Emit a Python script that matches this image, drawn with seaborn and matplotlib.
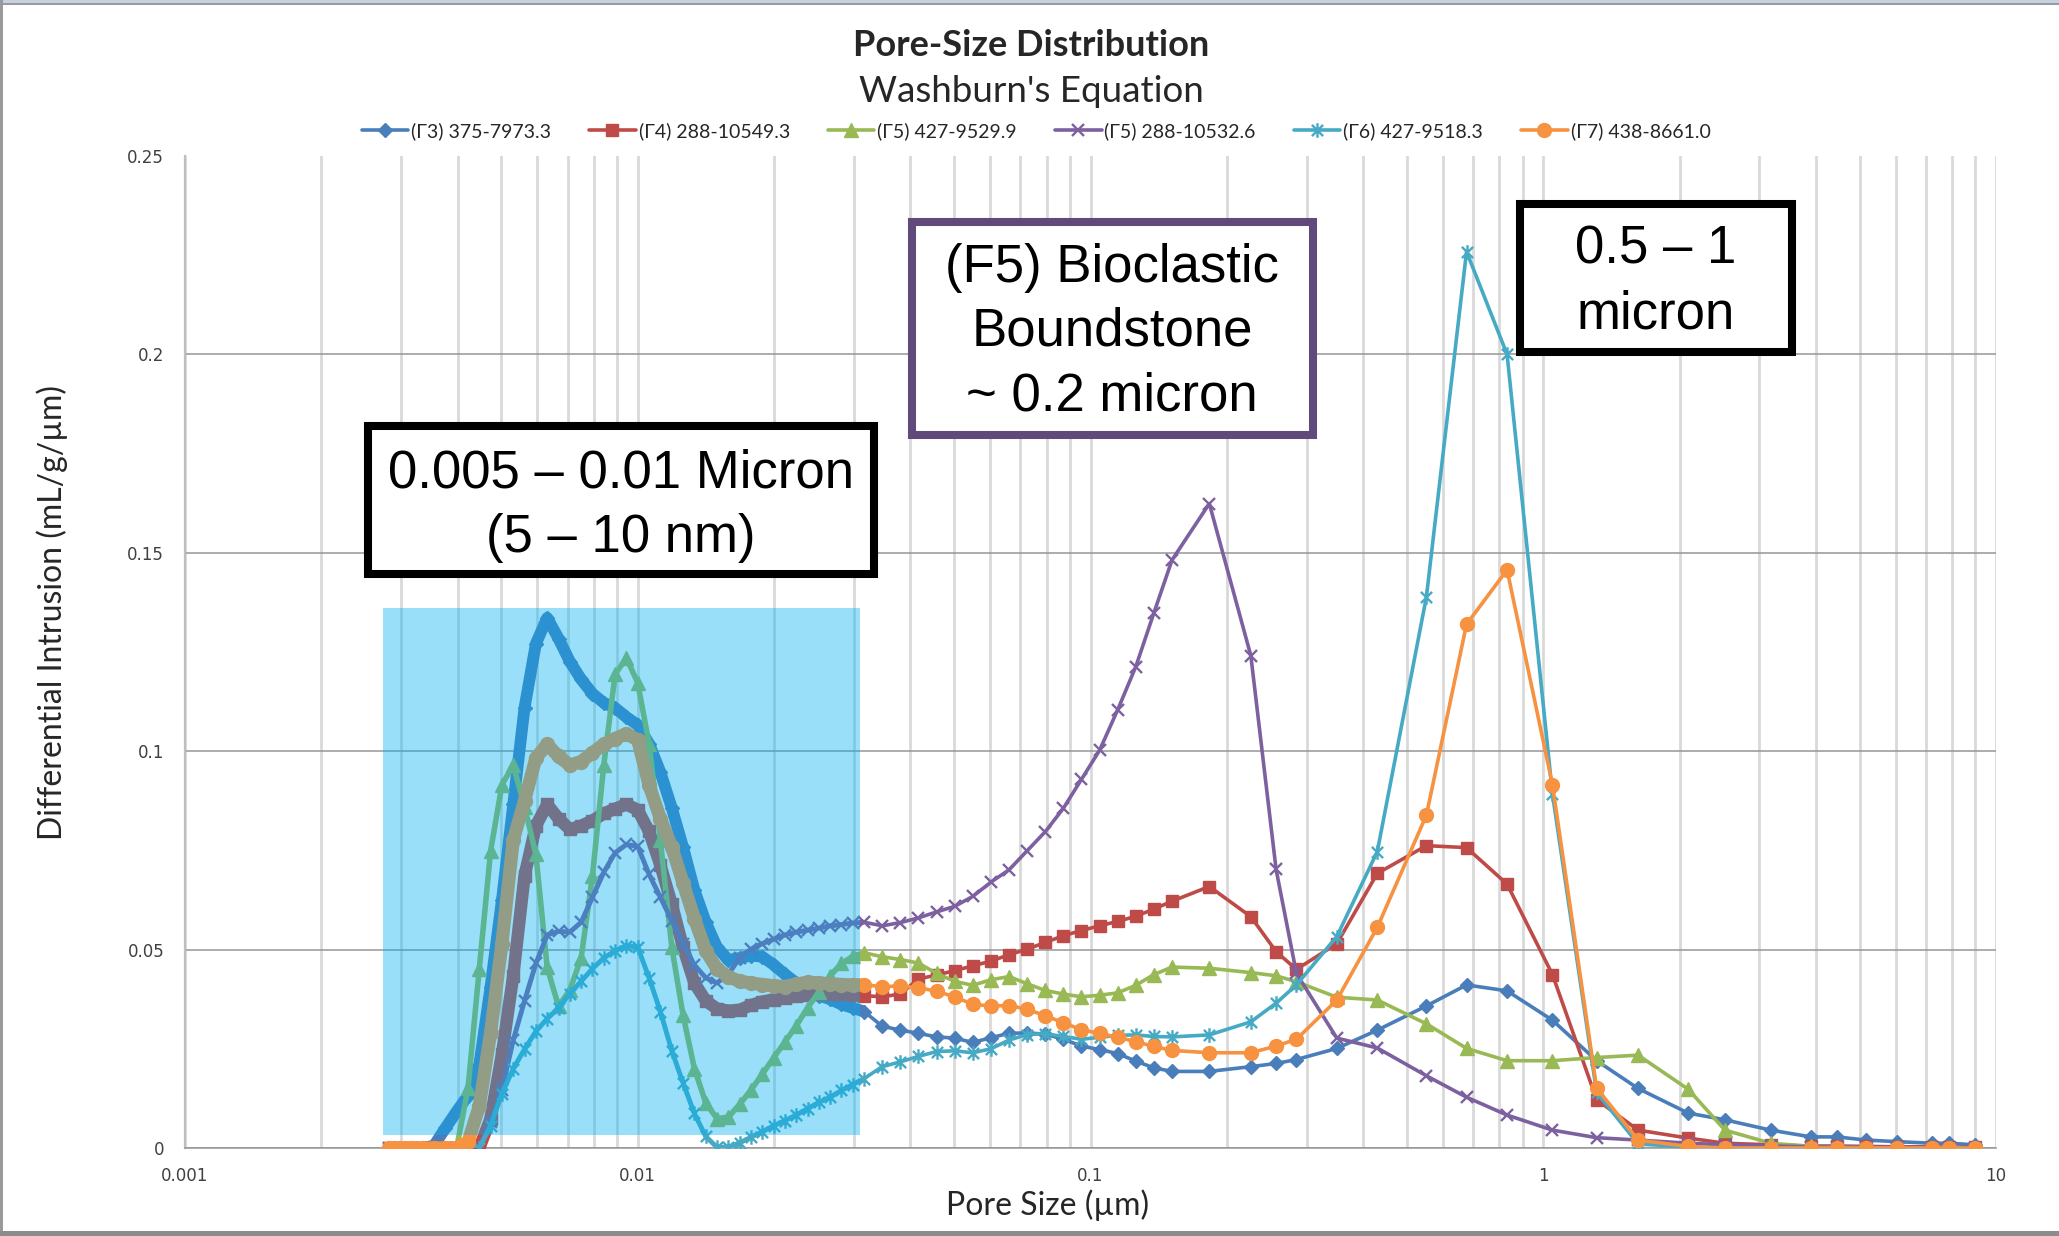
import numpy as np
import matplotlib
matplotlib.use("Agg")
import matplotlib.pyplot as plt
import seaborn as sns
from matplotlib.patches import Rectangle
from matplotlib.path import Path
from matplotlib.ticker import LogLocator, FuncFormatter, NullFormatter

sns.set_theme(style="white")
plt.rcParams["font.family"] = ["Lato", "DejaVu Sans"]

# ---------------------------------------------------------------- data
pore_size = [
    0.002818, 0.002985, 0.003162, 0.003350, 0.003548, 0.003758, 0.003981, 0.004217, 0.004467, 0.004732,
    0.005012, 0.005309, 0.005623, 0.005957, 0.006310, 0.006683, 0.007079, 0.007499, 0.007943, 0.008414,
    0.008913, 0.009441, 0.01000, 0.01059, 0.01122, 0.01189, 0.01259, 0.01334, 0.01413, 0.01496,
    0.01585, 0.01679, 0.01778, 0.01884, 0.01995, 0.02113, 0.02239, 0.02371, 0.02512, 0.02661,
    0.02818, 0.02985, 0.03162,
    0.03467, 0.03802, 0.04169, 0.04571, 0.05012, 0.05495, 0.06026, 0.06607, 0.07244, 0.07943,
    0.08710, 0.09550, 0.1047, 0.1148, 0.1259, 0.1380, 0.1514, 0.1830,
    0.2260, 0.2570, 0.2850, 0.3500, 0.4300, 0.5520, 0.6770, 0.8320, 1.048, 1.312,
    1.620, 2.090, 2.520, 3.180, 3.900, 4.450, 5.160, 6.050, 7.230, 7.870, 8.990,
]

g3_375 = [
    0, 0, 0, 0, 0.0006, 0.0050, 0.0092, 0.0132, 0.0209, 0.0407,
    0.0625, 0.0866, 0.1110, 0.1271, 0.1336, 0.1284, 0.1226, 0.1181, 0.1145, 0.1122,
    0.1109, 0.1086, 0.1066, 0.1019, 0.0947, 0.0857, 0.0758, 0.0650, 0.0569, 0.0506,
    0.0474, 0.0479, 0.0485, 0.0482, 0.0462, 0.0438, 0.0416, 0.0398, 0.0384, 0.0375,
    0.0362, 0.0353, 0.0344,
    0.0307, 0.0297, 0.0289, 0.0280, 0.0277, 0.0266, 0.0278, 0.0289, 0.0290, 0.0287,
    0.0274, 0.0257, 0.0248, 0.0238, 0.0219, 0.0202, 0.0193, 0.0193,
    0.0205, 0.0213, 0.0223, 0.0251, 0.0297, 0.0358, 0.0411, 0.0396, 0.0322, 0.0220,
    0.0150, 0.0088, 0.0071, 0.0045, 0.0028, 0.0028, 0.0020, 0.0016, 0.0012, 0.0012, 0.0008,
]

g4_288 = [
    0, 0, 0, 0, 0, 0, 0, 0, 0, 0.0074,
    0.0236, 0.0434, 0.0686, 0.0812, 0.0866, 0.0830, 0.0803, 0.0812, 0.0825, 0.0843,
    0.0855, 0.0866, 0.0852, 0.0798, 0.0713, 0.0614, 0.0506, 0.0416, 0.0371, 0.0351,
    0.0346, 0.0348, 0.0360, 0.0369, 0.0374, 0.0378, 0.0382, 0.0385, 0.0389, 0.0389,
    0.0387, 0.0385, 0.0384,
    0.0381, 0.0388, 0.0426, 0.0436, 0.0447, 0.0459, 0.0471, 0.0487, 0.0501, 0.0518,
    0.0535, 0.0548, 0.0560, 0.0571, 0.0584, 0.0602, 0.0622, 0.0659,
    0.0583, 0.0495, 0.0450, 0.0515, 0.0692, 0.0762, 0.0757, 0.0665, 0.0437, 0.0122,
    0.0045, 0.0025, 0.0012, 0.0008, 0.0005, 0.0005, 0.0004, 0.0003, 0.0003, 0.0002, 0.0002,
]

g5_427 = [
    0, 0, 0, 0, 0, 0, 0, 0.0150, 0.0452, 0.0749,
    0.0915, 0.0965, 0.0860, 0.0740, 0.0455, 0.0357, 0.0398, 0.0479, 0.0686, 0.0965,
    0.1194, 0.1235, 0.1172, 0.1019, 0.0776, 0.0506, 0.0335, 0.0200, 0.0114, 0.0074,
    0.0078, 0.0110, 0.0146, 0.0186, 0.0227, 0.0267, 0.0308, 0.0353, 0.0393, 0.0434,
    0.0465, 0.0483, 0.0492,
    0.0482, 0.0475, 0.0466, 0.0440, 0.0420, 0.0410, 0.0424, 0.0432, 0.0414, 0.0397,
    0.0388, 0.0381, 0.0385, 0.0391, 0.0410, 0.0437, 0.0456, 0.0453,
    0.0442, 0.0434, 0.0419, 0.0380, 0.0373, 0.0313, 0.0251, 0.0220, 0.0220, 0.0228,
    0.0234, 0.0148, 0.0045, 0.0012, 0.0004, 0.0002, 0.0001, 0, 0, 0, 0,
]

g5_288 = [
    0, 0, 0, 0, 0, 0, 0, 0, 0.0006, 0.0065,
    0.0146, 0.0272, 0.0371, 0.0465, 0.0537, 0.0546, 0.0544, 0.0569, 0.0632, 0.0695,
    0.0744, 0.0765, 0.0760, 0.0690, 0.0632, 0.0573, 0.0515, 0.0461, 0.0429, 0.0416,
    0.0438, 0.0479, 0.0501, 0.0515, 0.0526, 0.0537, 0.0544, 0.0549, 0.0554, 0.0560,
    0.0563, 0.0567, 0.0569,
    0.0560, 0.0568, 0.0580, 0.0595, 0.0609, 0.0634, 0.0670, 0.0701, 0.0749, 0.0797,
    0.0856, 0.0929, 0.1002, 0.1104, 0.1213, 0.1348, 0.1482, 0.1624,
    0.1241, 0.0702, 0.0440, 0.0277, 0.0252, 0.0182, 0.0128, 0.0083, 0.0045, 0.0026,
    0.0020, 0.0012, 0.0008, 0.0005, 0.0003, 0.0002, 0.0002, 0.0001, 0.0001, 0.0001, 0.0001,
]

g6_427 = [
    0, 0, 0, 0, 0, 0, 0, 0, 0, 0.0056,
    0.0137, 0.0200, 0.0249, 0.0294, 0.0326, 0.0353, 0.0389, 0.0420, 0.0452, 0.0479,
    0.0497, 0.0510, 0.0506, 0.0429, 0.0344, 0.0245, 0.0164, 0.0087, 0.0029, 0.0002,
    0.0002, 0.0013, 0.0027, 0.0041, 0.0056, 0.0069, 0.0083, 0.0099, 0.0115, 0.0128,
    0.0145, 0.0160, 0.0175,
    0.0205, 0.0217, 0.0231, 0.0243, 0.0245, 0.0240, 0.0250, 0.0272, 0.0286, 0.0288,
    0.0281, 0.0274, 0.0279, 0.0284, 0.0285, 0.0281, 0.0280, 0.0285,
    0.0318, 0.0365, 0.0411, 0.0533, 0.0747, 0.1389, 0.2259, 0.2000, 0.0892, 0.0140,
    0.0010, 0.0003, 0, 0, 0, 0, 0, 0, 0, 0, 0,
]

g7_438 = [
    0, 0, 0, 0, 0, 0, 0, 0.0015, 0.0105, 0.0290,
    0.0515, 0.0776, 0.0875, 0.0983, 0.1017, 0.0987, 0.0965, 0.0974, 0.0996, 0.1017,
    0.1032, 0.1044, 0.1028, 0.0915, 0.0830, 0.0758, 0.0668, 0.0578, 0.0497, 0.0452,
    0.0432, 0.0420, 0.0416, 0.0412, 0.0409, 0.0407, 0.0413, 0.0418, 0.0416, 0.0414,
    0.0412, 0.0411, 0.0411,
    0.0407, 0.0408, 0.0404, 0.0395, 0.0381, 0.0362, 0.0358, 0.0359, 0.0350, 0.0333,
    0.0316, 0.0298, 0.0289, 0.0279, 0.0268, 0.0256, 0.0246, 0.0240,
    0.0240, 0.0257, 0.0274, 0.0373, 0.0556, 0.0839, 0.1320, 0.1457, 0.0915, 0.0151,
    0.0020, 0.0004, 0, 0, 0, 0, 0, 0, 0, 0, 0,
]

series_labels = [
    "(\u03933) 375-7973.3",
    "(\u03934) 288-10549.3",
    "(\u03935) 427-9529.9",
    "(\u03935) 288-10532.6",
    "(\u03936) 427-9518.3",
    "(\u03937) 438-8661.0",
]
series_values = [g3_375, g4_288, g5_427, g5_288, g6_427, g7_438]

# highlighted pore-size band (µm) and intrusion range
band_x = [0.002735, 0.0309]
band_y = [0.0033, 0.1361]

# ---------------------------------------------------------------- styling
W, H = 2059, 1236
colors = ["#4A7EBB", "#BE4B48", "#98B954", "#7D60A0", "#46AAC5", "#F69240"]

star = Path([(-1, -1), (1, 1), (-1, 1), (1, -1), (0, -1.3), (0, 1.3)],
            [Path.MOVETO, Path.LINETO] * 3)
# marker, size, filled, stroke width where the readings are closely spaced
marker_specs = [
    ("D", 7.0, True, 8.5),
    ("s", 9.0, True, 9.0),
    ("^", 10.0, True, 4.0),
    ("x", 9.0, False, 3.5),
    (star, 10.5, False, 3.5),
    ("o", 10.0, True, 9.5),
]
n_fine = sum(1 for v in pore_size if v < 0.032)

fig = plt.figure(figsize=(W / 100, H / 100), dpi=100)
fig.patch.set_facecolor("white")
ax = fig.add_axes([185 / W, 1 - 1148 / H, 1811 / W, 992 / H])
ax.set_xscale("log")

for i, (lab, vals) in enumerate(zip(series_labels, series_values)):
    m, ms, filled, fine_lw = marker_specs[i]
    c = colors[i]
    # closely spaced readings merge into a continuous band of markers
    sns.lineplot(x=pore_size[:n_fine], y=vals[:n_fine], ax=ax, color=c,
                 linewidth=fine_lw, estimator=None, sort=False,
                 label="_nolegend_", zorder=3 + i, solid_capstyle="butt")
    sns.lineplot(
        x=pore_size, y=vals, ax=ax, color=c, linewidth=2.6,
        marker=m, markersize=ms, markeredgecolor=c,
        markerfacecolor=c if filled else "none",
        markeredgewidth=1.0 if filled else 1.7,
        estimator=None, sort=False, label=lab, zorder=3 + i,
    )

handles, labels = ax.get_legend_handles_labels()
if ax.get_legend() is not None:
    ax.get_legend().remove()

# translucent band over the nano-pore range
ax.add_patch(Rectangle((band_x[0], band_y[0]), band_x[1] - band_x[0], band_y[1] - band_y[0],
                       facecolor="#00B0F0", alpha=0.4, edgecolor="none", zorder=12))

ax.set_xlim(0.001, 10)
ax.set_ylim(0, 0.25)
ax.xaxis.set_major_locator(LogLocator(base=10, numticks=10))
ax.xaxis.set_minor_locator(LogLocator(base=10, subs=np.arange(2, 10), numticks=100))
ax.xaxis.set_major_formatter(FuncFormatter(lambda v, p: f"{v:g}"))
ax.xaxis.set_minor_formatter(NullFormatter())
ax.set_yticks([0, 0.05, 0.1, 0.15, 0.2, 0.25])
ax.yaxis.set_major_formatter(FuncFormatter(lambda v, p: f"{v:g}"))
ax.set_xlabel("")
ax.set_ylabel("")

ax.set_axisbelow(True)
ax.grid(True, which="both", axis="x", color="#D9D9D9", linewidth=2.0)
ax.grid(True, which="major", axis="y", color="#969696", linewidth=1.1)
ax.yaxis.get_gridlines()[-1].set_visible(False)

for side in ("top", "right"):
    ax.spines[side].set_visible(False)
ax.spines["left"].set_color("#BFBFBF")
ax.spines["left"].set_linewidth(1.6)
ax.spines["bottom"].set_color("#969696")
ax.spines["bottom"].set_linewidth(1.1)

ax.tick_params(axis="x", which="both", length=0, pad=14, labelsize=12,
               labelcolor="#404040", labelfontfamily="DejaVu Sans")
ax.tick_params(axis="y", length=6, width=1, color="#969696", pad=9, labelsize=12,
               labelcolor="#404040", labelfontfamily="DejaVu Sans")

# ---------------------------------------------------------------- titles & labels
fig.text(1031 / W, 1 - 46 / H, "Pore-Size Distribution", ha="center", va="center",
         fontsize=26, fontweight="bold")
fig.text(1031 / W, 1 - 92 / H, "Washburn's Equation", ha="center", va="center", fontsize=26.5)
fig.text(52 / W, 1 - 613 / H, "Differential Intrusion (mL/g/\u00b5m)", rotation=90,
         ha="center", va="center", fontsize=23)
fig.text(1048 / W, 1 - 1205 / H, "Pore Size (\u00b5m)", ha="center", va="center", fontsize=23)

fig.legend(handles, labels, loc="center", bbox_to_anchor=(1036 / W, 1 - 131 / H), ncol=6,
           frameon=False, prop={"family": ["Lato", "DejaVu Sans"], "size": 14},
           handlelength=2.4, handletextpad=0.15, columnspacing=1.95)

# ---------------------------------------------------------------- annotation boxes
def note_box(x0, y0, x1, y1, edge, text, cx, cy):
    fig.add_artist(Rectangle((x0 / W, 1 - y1 / H), (x1 - x0) / W, (y1 - y0) / H,
                             transform=fig.transFigure, facecolor="white",
                             edgecolor=edge, linewidth=5.8, zorder=20))
    fig.text(cx / W, 1 - cy / H, text, ha="center", va="center", fontsize=38,
             family="Liberation Sans", color="black", linespacing=1.36, zorder=21,
             multialignment="center")

note_box(368, 426, 874, 574, "black", "0.005 \u2013 0.01 Micron\n(5 \u2013 10 nm)", 621, 506)
note_box(911.6, 222.3, 1313.4, 435.3, "#604A7B", "(F5) Bioclastic\nBoundstone\n~ 0.2 micron", 1112, 332)
note_box(1520, 204, 1792, 352, "black", "0.5 \u2013 1\nmicron", 1656, 282)

# ---------------------------------------------------------------- chart frame
fig.add_artist(Rectangle((0, 1 - 3 / H), 1, 3 / H, transform=fig.transFigure,
                         facecolor="#C5D0E0", edgecolor="none", zorder=30))
fig.add_artist(Rectangle((0, 1 - 5 / H), 1, 2 / H, transform=fig.transFigure,
                         facecolor="#9A9A9A", edgecolor="none", zorder=30))
fig.add_artist(Rectangle((0, 0), 3 / W, 1, transform=fig.transFigure,
                         facecolor="#9A9A9A", edgecolor="none", zorder=30))
fig.add_artist(Rectangle((0, 0), 1, 5 / H, transform=fig.transFigure,
                         facecolor="#8C8C8C", edgecolor="none", zorder=30))

fig.savefig("out.png", dpi=100, facecolor="white")
